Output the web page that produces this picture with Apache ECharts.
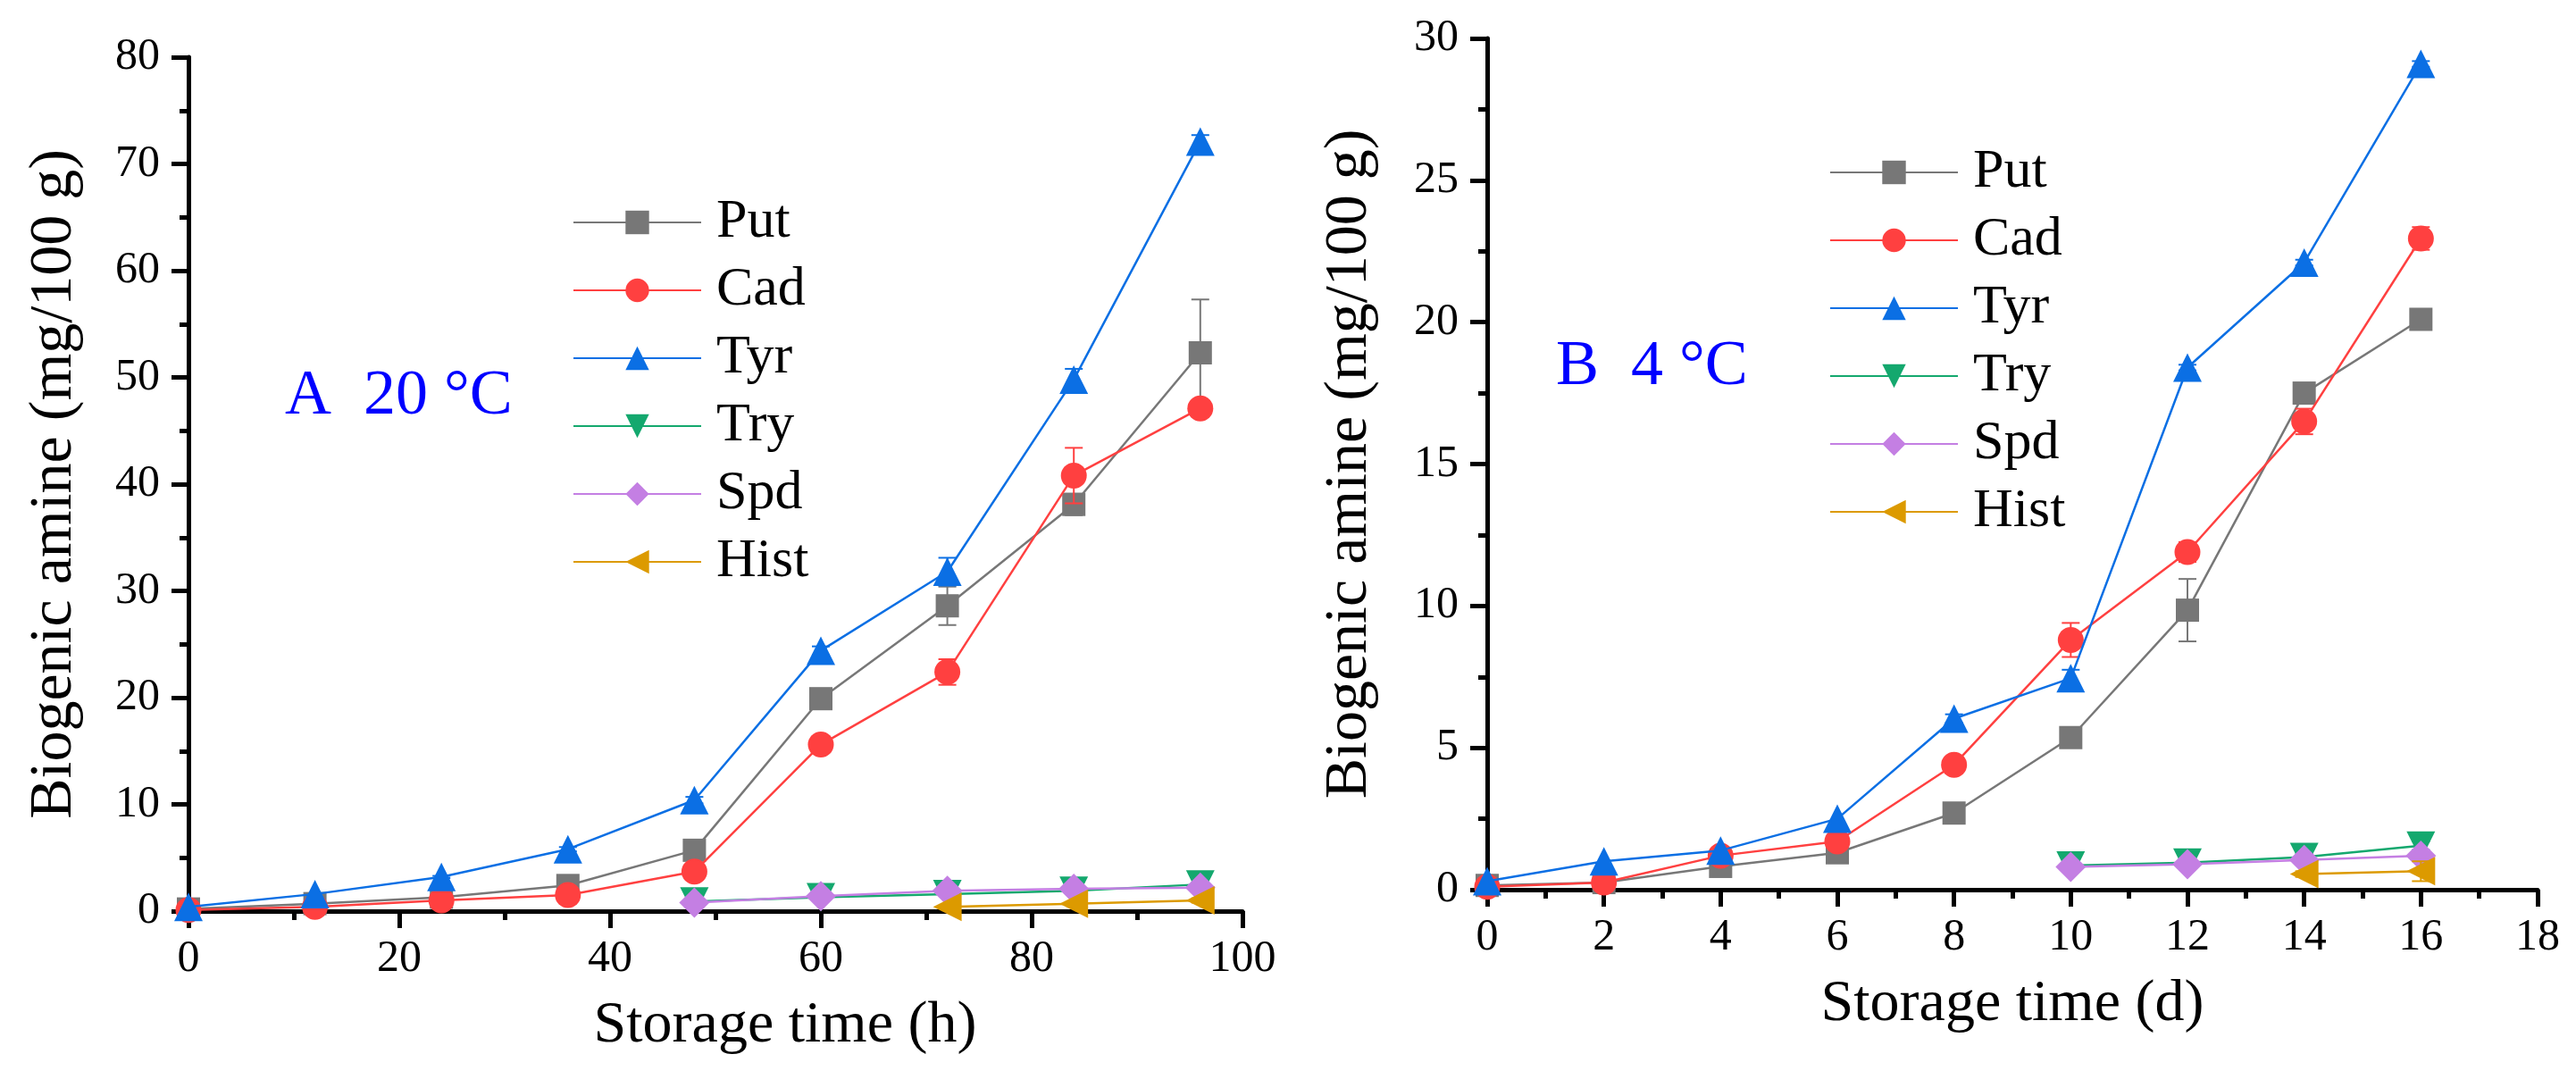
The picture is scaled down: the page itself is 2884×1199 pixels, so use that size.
<!DOCTYPE html>
<html><head><meta charset="utf-8">
<script src="https://cdn.jsdelivr.net/npm/echarts@6/dist/echarts.min.js"></script>
<style>html,body{margin:0;padding:0;background:#fff;font-family:"Liberation Serif","Times New Roman",serif}#c{width:2884px;height:1199px}</style>
</head><body><div id="c"></div>
<script>
const seriesNames = ['Put','Cad','Tyr','Try','Spd','Hist'];
const colors = ['#777777','#FF4040','#0B6FE4','#14A86E','#C47FE3','#DC9A00'];

// Panel A: 20 °C, storage time in hours
const hoursA = [0,12,24,36,48,60,72,84,96];
const putA  = [0.2,0.7,1.3,2.4,5.7,19.9,28.6,38.1,52.3];
const cadA  = [0.1,0.4,1.0,1.5,3.7,15.6,22.4,40.8,47.1];
const tyrA  = [0.4,1.6,3.2,5.8,10.4,24.4,31.8,49.8,72.1];
const tryA  = [null,null,null,null,0.9,1.3,1.6,1.9,2.5];
const spdA  = [null,null,null,null,0.8,1.4,1.9,2.1,2.2];
const histA = [null,null,null,null,null,null,0.4,0.7,1.0];
const putErrA = [0,0,0.1,0.2,0.3,0.5,1.8,1.0,5.0];
const cadErrA = [0,0,0.1,0.1,0.3,0.4,1.2,2.6,0.5];
const tyrErrA = [0,0,0.1,0.2,0.3,0.4,1.3,1.0,0.6];
const tryErrA = [null,null,null,null,0.1,0.1,0.1,0.1,0.2];
const spdErrA = [null,null,null,null,0.1,0.1,0.1,0.1,0.2];
const histErrA = [null,null,null,null,null,null,0.1,0.1,0.2];

// Panel B: 4 °C, storage time in days
const daysB = [0,2,4,6,8,10,12,14,16];
const putB  = [0.15,0.25,0.82,1.3,2.7,5.36,9.85,17.5,20.1];
const cadB  = [0.1,0.25,1.2,1.7,4.4,8.8,11.9,16.5,22.95];
const tyrB  = [0.3,1.0,1.38,2.5,6.03,7.45,18.4,22.1,29.1];
const tryB  = [null,null,null,null,null,0.85,0.95,1.15,1.55];
const spdB  = [null,null,null,null,null,0.8,0.9,1.05,1.2];
const histB = [null,null,null,null,null,null,null,0.55,0.65];
const putErrB = [0,0,0,0.05,0.1,0.1,1.1,0.2,0.2];
const cadErrB = [0,0,0.1,0.1,0.15,0.6,0.35,0.45,0.4];
const tyrErrB = [0,0,0,0,0.15,0.3,0.1,0.1,0.1];
const tryErrB = [null,null,null,null,null,0.1,0.1,0.1,0.15];
const spdErrB = [null,null,null,null,null,0.1,0.1,0.1,0.15];
const histErrB = [null,null,null,null,null,null,null,0.1,0.35];

const FONT = "'Liberation Serif', 'Times New Roman', 'DejaVu Serif', serif";
const symbols = ['rect','circle','triangle','triangle','diamond','triangle'];
const symbolSizes = [26,29,32,32,34,32];
const symbolRotates = [0,0,0,180,0,90];

function pairs(xs, ys){ return xs.map((x,i)=> ys[i]==null ? null : [x, ys[i]]).filter(d=>d); }
function triples(xs, ys, es){ return xs.map((x,i)=> ys[i]==null ? null : [x, ys[i], es[i]||0]).filter(d=>d); }

function errRender(color){
  return function(params, api){
    const x = api.value(0), y = api.value(1), e = api.value(2);
    if (!e) return null;
    const t = api.coord([x, y + e]), b = api.coord([x, y - e]);
    const hw = 10;
    const st = {stroke: color, lineWidth: 2};
    return {type:'group', children:[
      {type:'line', shape:{x1:t[0],y1:t[1],x2:b[0],y2:b[1]}, style:st},
      {type:'line', shape:{x1:t[0]-hw,y1:t[1],x2:t[0]+hw,y2:t[1]}, style:st},
      {type:'line', shape:{x1:b[0]-hw,y1:b[1],x2:b[0]+hw,y2:b[1]}, style:st}
    ]};
  };
}

function axisCommon(){
  return {
    axisLine:{show:true, onZero:false, lineStyle:{color:'#000', width:5}},
    axisTick:{show:true, inside:false, length:19, lineStyle:{color:'#000', width:5}},
    minorTick:{show:true, splitNumber:2, length:10, lineStyle:{color:'#000', width:5}},
    splitLine:{show:false}, minorSplitLine:{show:false},
    axisLabel:{fontSize:50, fontFamily:FONT, color:'#000'}
  };
}

function makeX(idx, max, interval, name, pad){
  const a = axisCommon();
  return Object.assign(a, {
    type:'value', gridIndex:idx, min:0, max:max, interval:interval,
    name:name, nameLocation:'middle', nameGap:96,
    nameTextStyle:{fontSize:66, fontFamily:FONT, color:'#000', padding:pad},
    axisLabel:Object.assign(a.axisLabel, {margin:29})
  });
}
function makeY(idx, max, interval, gap){
  const a = axisCommon();
  return Object.assign(a, {
    type:'value', gridIndex:idx, min:0, max:max, interval:interval,
    name:'Biogenic amine (mg/100 g)', nameLocation:'middle', nameGap:gap, nameRotate:90,
    nameTextStyle:{fontSize:68, fontFamily:FONT, color:'#000'},
    axisLabel:Object.assign(a.axisLabel, {margin:32})
  });
}

const panelA = [putA,cadA,tyrA,tryA,spdA,histA];
const panelAErr = [putErrA,cadErrA,tyrErrA,tryErrA,spdErrA,histErrA];
const panelB = [putB,cadB,tyrB,tryB,spdB,histB];
const panelBErr = [putErrB,cadErrB,tyrErrB,tryErrB,spdErrB,histErrB];

const series = [];
function addPanel(idx, xs, ys, es){
  ys.forEach((vals, i) => {
    series.push({
      type:'custom', name:seriesNames[i]+' error', xAxisIndex:idx, yAxisIndex:idx,
      renderItem: errRender(colors[i]), data: triples(xs, vals, es[i]),
      encode:{x:0, y:1}, z: 2 + i*2, silent:true
    });
    series.push({
      type:'line', name:seriesNames[i], xAxisIndex:idx, yAxisIndex:idx,
      data: pairs(xs, vals), symbol:symbols[i], symbolSize:symbolSizes[i],
      symbolRotate:symbolRotates[i], showAllSymbol:true, clip:false,
      itemStyle:{color:colors[i]}, lineStyle:{color:colors[i], width:2.5},
      z: 3 + i*2
    });
  });
}
addPanel(0, hoursA, panelA, panelAErr);
addPanel(1, daysB, panelB, panelBErr);

function legendAt(left, top){
  return {
    orient:'vertical', left:left, top:top, itemWidth:143, itemHeight:33, itemGap:14,
    selectedMode:false, data:seriesNames,
    textStyle:{fontSize:62, fontFamily:FONT, color:'#000', padding:[0,0,0,12]}
  };
}

const option = {
  animation:false,
  backgroundColor:'#fff',
  textStyle:{fontFamily:FONT},
  grid:[
    {left:211, top:64, width:1180, height:956},
    {left:1665, top:43, width:1176, height:953}
  ],
  xAxis:[
    makeX(0, 100, 20, 'Storage time (h)', [0,0,0,156]),
    makeX(1, 18, 2, 'Storage time (d)', [0,0,0,0])
  ],
  yAxis:[
    makeY(0, 80, 10, 116),
    makeY(1, 30, 5, 120)
  ],
  legend:[legendAt(636, 213), legendAt(2043, 157)],
  graphic:[
    {type:'text', left:319, top:444-36, style:{text:'A  20 °C', fontSize:72, fontFamily:FONT, fill:'#0000FF'}},
    {type:'text', left:1742, top:411-36, style:{text:'B  4 °C', fontSize:72, fontFamily:FONT, fill:'#0000FF'}}
  ],
  series:series
};

const chart = echarts.init(document.getElementById('c'));
chart.setOption(option);
</script>
</body></html>
